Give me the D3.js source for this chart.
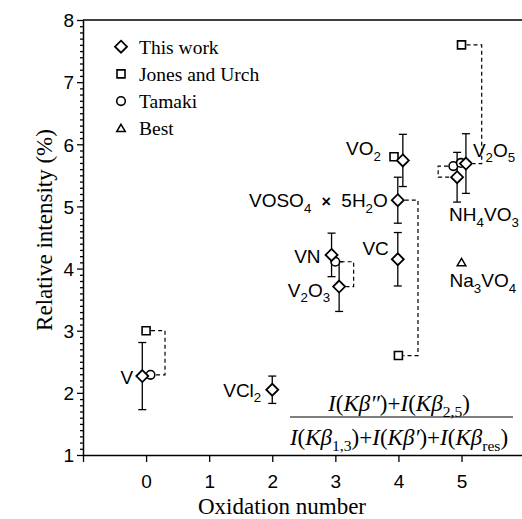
<!DOCTYPE html>
<html><head><meta charset="utf-8">
<script src="https://cdn.jsdelivr.net/npm/d3@7"></script>
<style>body{margin:0;background:#fff} svg{display:block}</style>
</head><body>
<script>
// Relative Kβ satellite intensity of vanadium compounds against oxidation number

// ---- this work (diamonds with error bars) ----
const compounds   = ["V", "VCl_{2}", "VN", "V_{2}O_{3}", "VO_{2}", "VOSO_{4} × 5H_{2}O", "VC", "NH_{4}VO_{3}", "V_{2}O_{5}"];
const oxidation   = [0, 2, 3, 3, 4, 4, 4, 5, 5];
// plotted abscissa: oxidation number, nudged apart where symbols would overlap
const thisWorkX   = [-0.06, 2.0, 2.94, 3.06, 4.07, 3.99, 3.99, 4.93, 5.07];
const thisWorkY   = [2.27, 2.05, 4.22, 3.71, 5.74, 5.10, 4.15, 5.47, 5.69];
const thisWorkErr = [0.54, 0.22, 0.35, 0.40, 0.42, 0.37, 0.43, 0.40, 0.48];

// ---- Jones and Urch (squares) ----
const jonesCompounds = ["V", "VO_{2}", "VOSO_{4} × 5H_{2}O", "V_{2}O_{5}"];
const jonesX = [0.0, 3.93, 4.0, 5.0];
const jonesY = [3.00, 5.80, 2.60, 7.60];

// ---- Tamaki (circles) ----
const tamakiCompounds = ["V", "V_{2}O_{3}", "NH_{4}VO_{3}", "V_{2}O_{5}"];
const tamakiX = [0.07, 3.0, 4.87, 4.99];
const tamakiY = [2.29, 4.11, 5.65, 5.70];

// ---- Best (triangle) ----
const bestCompounds = ["Na_{3}VO_{4}"];
const bestX = [5.0];
const bestY = [4.10];

// same-compound links between data sets: [series, index] pairs
const linkFrom = [["jones", 0], ["tamaki", 1], ["thisWork", 5], ["jones", 3], ["tamaki", 2]];
const linkTo   = [["tamaki", 0], ["thisWork", 3], ["jones", 2], ["thisWork", 8], ["thisWork", 7]];
const linkBracketX = [0.30, 3.29, 4.31, 5.32, 4.63];

// axes
const xTicks = [-1, 0, 1, 2, 3, 4, 5];
const xTickLabels = ["", "0", "1", "2", "3", "4", "5"];
const yTicks = [1, 2, 3, 4, 5, 6, 7, 8];
const legendLabels = ["This work", "Jones and Urch", "Tamaki", "Best"];

// ---- layout ----
const W = 522, H = 519;
const SANS = "'Liberation Sans', Arial, sans-serif";
const SERIF = "'Liberation Serif', 'Times New Roman', serif";

// compound label placement relative to its symbol (px)
const labelDx = [-9, -11, -11, -9, -22, -10, -9, -8, 7];
const labelDy = [8, 7, 8, 10, -5, 7, -4, 44, -7];
const labelAnchor = ["end", "end", "end", "end", "end", "end", "end", "start", "start"];
const labelWordSpacing = [0, 0, 0, 0, 0, 5, 0, 0, 0];
const bestLabelDx = -12, bestLabelDy = 25;

const svg = d3.select("body").append("svg").attr("width", W).attr("height", H);

const x = d3.scaleLinear().domain([-1, 6]).range([83, 524.6]);
const y = d3.scaleLinear().domain([1, 8]).range([455, 20]);

// write text with _{...} subscripts as tspans; the hydrate "×" is set small and bold
function richText(textSel, str, fs) {
  const parts = str.split(/(_\{[^}]*\}|×)/).filter(s => s.length);
  let down = false;
  parts.forEach(p => {
    if (p.startsWith("_{")) {
      textSel.append("tspan").text(p.slice(2, -1))
        .attr("font-size", fs * 0.7).attr("dy", fs * 0.3);
      down = true;
    } else {
      const t = textSel.append("tspan").text(p);
      if (p === "×") t.attr("font-weight", "bold").attr("font-size", fs * 0.85);
      if (down) { t.attr("dy", -fs * 0.3); down = false; }
    }
  });
}

// ---- axes ----
const axisStroke = 1.5;
const gx = svg.append("g").attr("transform", `translate(0,${y(1)})`)
  .call(d3.axisBottom(x).tickValues(xTicks).tickSize(7).tickSizeOuter(0)
    .tickFormat((d, i) => xTickLabels[i]));
gx.selectAll("text").attr("y", 33).attr("dy", 0)
  .attr("font-family", SANS).attr("font-size", 19).attr("fill", "#000");

const minorY = d3.range(10, 81).map(v => v / 10).filter(v => v % 1 !== 0);
svg.append("g").attr("transform", `translate(${x(-1)},0)`)
  .call(d3.axisLeft(y).tickValues(minorY).tickSize(3).tickSizeOuter(0).tickFormat(""))
  .call(g => g.select(".domain").remove());

const gy = svg.append("g").attr("transform", `translate(${x(-1)},0)`)
  .call(d3.axisLeft(y).tickValues(yTicks).tickSize(6).tickSizeOuter(0).tickFormat(d3.format("d")));
gy.selectAll("text").attr("x", -9).attr("dy", "0.36em")
  .attr("font-family", SANS).attr("font-size", 19).attr("fill", "#000");

svg.selectAll(".tick line").attr("stroke", "#000").attr("stroke-width", 1.3);
[gx, gy].forEach(g => {
  g.select(".domain").attr("stroke", "#000").attr("stroke-width", axisStroke);
});

// top border
svg.append("line").attr("x1", x(-1)).attr("x2", W).attr("y1", y(8)).attr("y2", y(8))
  .attr("stroke", "#000").attr("stroke-width", axisStroke);

// axis titles
svg.append("text").attr("x", 282).attr("y", 514).attr("text-anchor", "middle")
  .attr("font-family", SERIF).attr("font-size", 23).text("Oxidation number");
svg.append("text").attr("transform", "translate(52,230) rotate(-90)").attr("text-anchor", "middle")
  .attr("font-family", SERIF).attr("font-size", 23).text("Relative intensity (%)");

// ---- symbols ----
const symbols = {
  thisWork: { path: "M0,-6L6,0L0,6L-6,0Z", half: 6, sw: 1.8 },
  jones:    { path: "M-4,-4H4V4H-4Z", half: 4, sw: 1.6 },
  tamaki:   { path: d3.symbol(d3.symbolCircle, Math.PI * 4.3 * 4.3)(), half: 4.3, sw: 1.6 },
  best:     { path: "M0,-4L4.3,3.3H-4.3Z", half: 4.3, sw: 1.5 }
};
const series = {
  thisWork: { xs: thisWorkX, ys: thisWorkY },
  jones:    { xs: jonesX, ys: jonesY },
  tamaki:   { xs: tamakiX, ys: tamakiY },
  best:     { xs: bestX, ys: bestY }
};

// dashed bracket connectors
const gLinks = svg.append("g").attr("fill", "none").attr("stroke", "#000")
  .attr("stroke-width", 1.2).attr("stroke-dasharray", "4,3");
linkFrom.forEach((a, i) => {
  const b = linkTo[i];
  const bx = x(linkBracketX[i]);
  const ax = x(series[a[0]].xs[a[1]]), ay = y(series[a[0]].ys[a[1]]);
  const cx = x(series[b[0]].xs[b[1]]), cy = y(series[b[0]].ys[b[1]]);
  const da = Math.sign(bx - ax), dc = Math.sign(bx - cx);
  const p = d3.path();
  p.moveTo(ax + da * (symbols[a[0]].half + 1), ay);
  p.lineTo(bx, ay);
  p.lineTo(bx, cy);
  p.lineTo(cx + dc * (symbols[b[0]].half + 1), cy);
  gLinks.append("path").attr("d", p.toString());
});

// error bars
const gErr = svg.append("g").attr("stroke", "#000").attr("stroke-width", 1.3);
thisWorkY.forEach((v, i) => {
  const cx = x(thisWorkX[i]);
  const top = y(v + thisWorkErr[i]), bot = y(v - thisWorkErr[i]);
  gErr.append("line").attr("x1", cx).attr("x2", cx).attr("y1", top).attr("y2", bot);
  gErr.append("line").attr("x1", cx - 4).attr("x2", cx + 4).attr("y1", top).attr("y2", top);
  gErr.append("line").attr("x1", cx - 4).attr("x2", cx + 4).attr("y1", bot).attr("y2", bot);
});

function drawMarks(key) {
  const s = series[key], sym = symbols[key];
  svg.append("g").selectAll("path").data(s.ys).join("path")
    .attr("d", sym.path)
    .attr("transform", (d, i) => `translate(${x(s.xs[i])},${y(d)})`)
    .attr("fill", "#fff").attr("stroke", "#000").attr("stroke-width", sym.sw);
}
drawMarks("tamaki");
drawMarks("jones");
drawMarks("best");
drawMarks("thisWork");

// compound labels
const LFS = 19;
compounds.forEach((c, i) => {
  const t = svg.append("text")
    .attr("x", x(thisWorkX[i]) + labelDx[i]).attr("y", y(thisWorkY[i]) + labelDy[i])
    .attr("text-anchor", labelAnchor[i]).attr("font-family", SANS).attr("font-size", LFS)
    .attr("word-spacing", labelWordSpacing[i]);
  richText(t, c, LFS);
});
bestCompounds.forEach((c, i) => {
  const t = svg.append("text")
    .attr("x", x(bestX[i]) + bestLabelDx).attr("y", y(bestY[i]) + bestLabelDy)
    .attr("font-family", SANS).attr("font-size", LFS);
  richText(t, c, LFS);
});

// ---- legend ----
const legendKeys = ["thisWork", "jones", "tamaki", "best"];
const gLeg = svg.append("g");
legendKeys.forEach((k, i) => {
  const cy = 46.7 + i * 27.2;
  gLeg.append("path").attr("d", symbols[k].path)
    .attr("transform", `translate(121,${cy})`)
    .attr("fill", "#fff").attr("stroke", "#000").attr("stroke-width", symbols[k].sw);
  gLeg.append("text").attr("x", 139).attr("y", cy + 7)
    .attr("font-family", SERIF).attr("font-size", 19.5).text(legendLabels[i]);
});

// ---- ratio definition ----
const FFS = 23;
function formula(str, cx, by) {
  const t = svg.append("text").attr("x", cx).attr("y", by).attr("text-anchor", "middle")
    .attr("font-family", SERIF).attr("font-size", FFS);
  const parts = str.split(/(_\{[^}]*\})/).filter(s => s.length);
  let down = false;
  parts.forEach(p => {
    if (p.startsWith("_{")) {
      t.append("tspan").text(p.slice(2, -1)).attr("font-size", FFS * 0.68).attr("dy", FFS * 0.28);
      down = true;
    } else {
      [...p].forEach((ch, j) => {
        const ts = t.append("tspan").text(ch)
          .attr("font-style", "IKβ″′".includes(ch) ? "italic" : "normal");
        if (down && j === 0) { ts.attr("dy", -FFS * 0.28); }
      });
      down = false;
    }
  });
}
formula("I(Kβ″)+I(Kβ_{2,5})", 399, 411);
svg.append("line").attr("x1", 290).attr("x2", 513).attr("y1", 417).attr("y2", 417)
  .attr("stroke", "#000").attr("stroke-width", 1.2);
formula("I(Kβ_{1,3})+I(Kβ′)+I(Kβ_{res})", 399, 445);
</script>
</body></html>
